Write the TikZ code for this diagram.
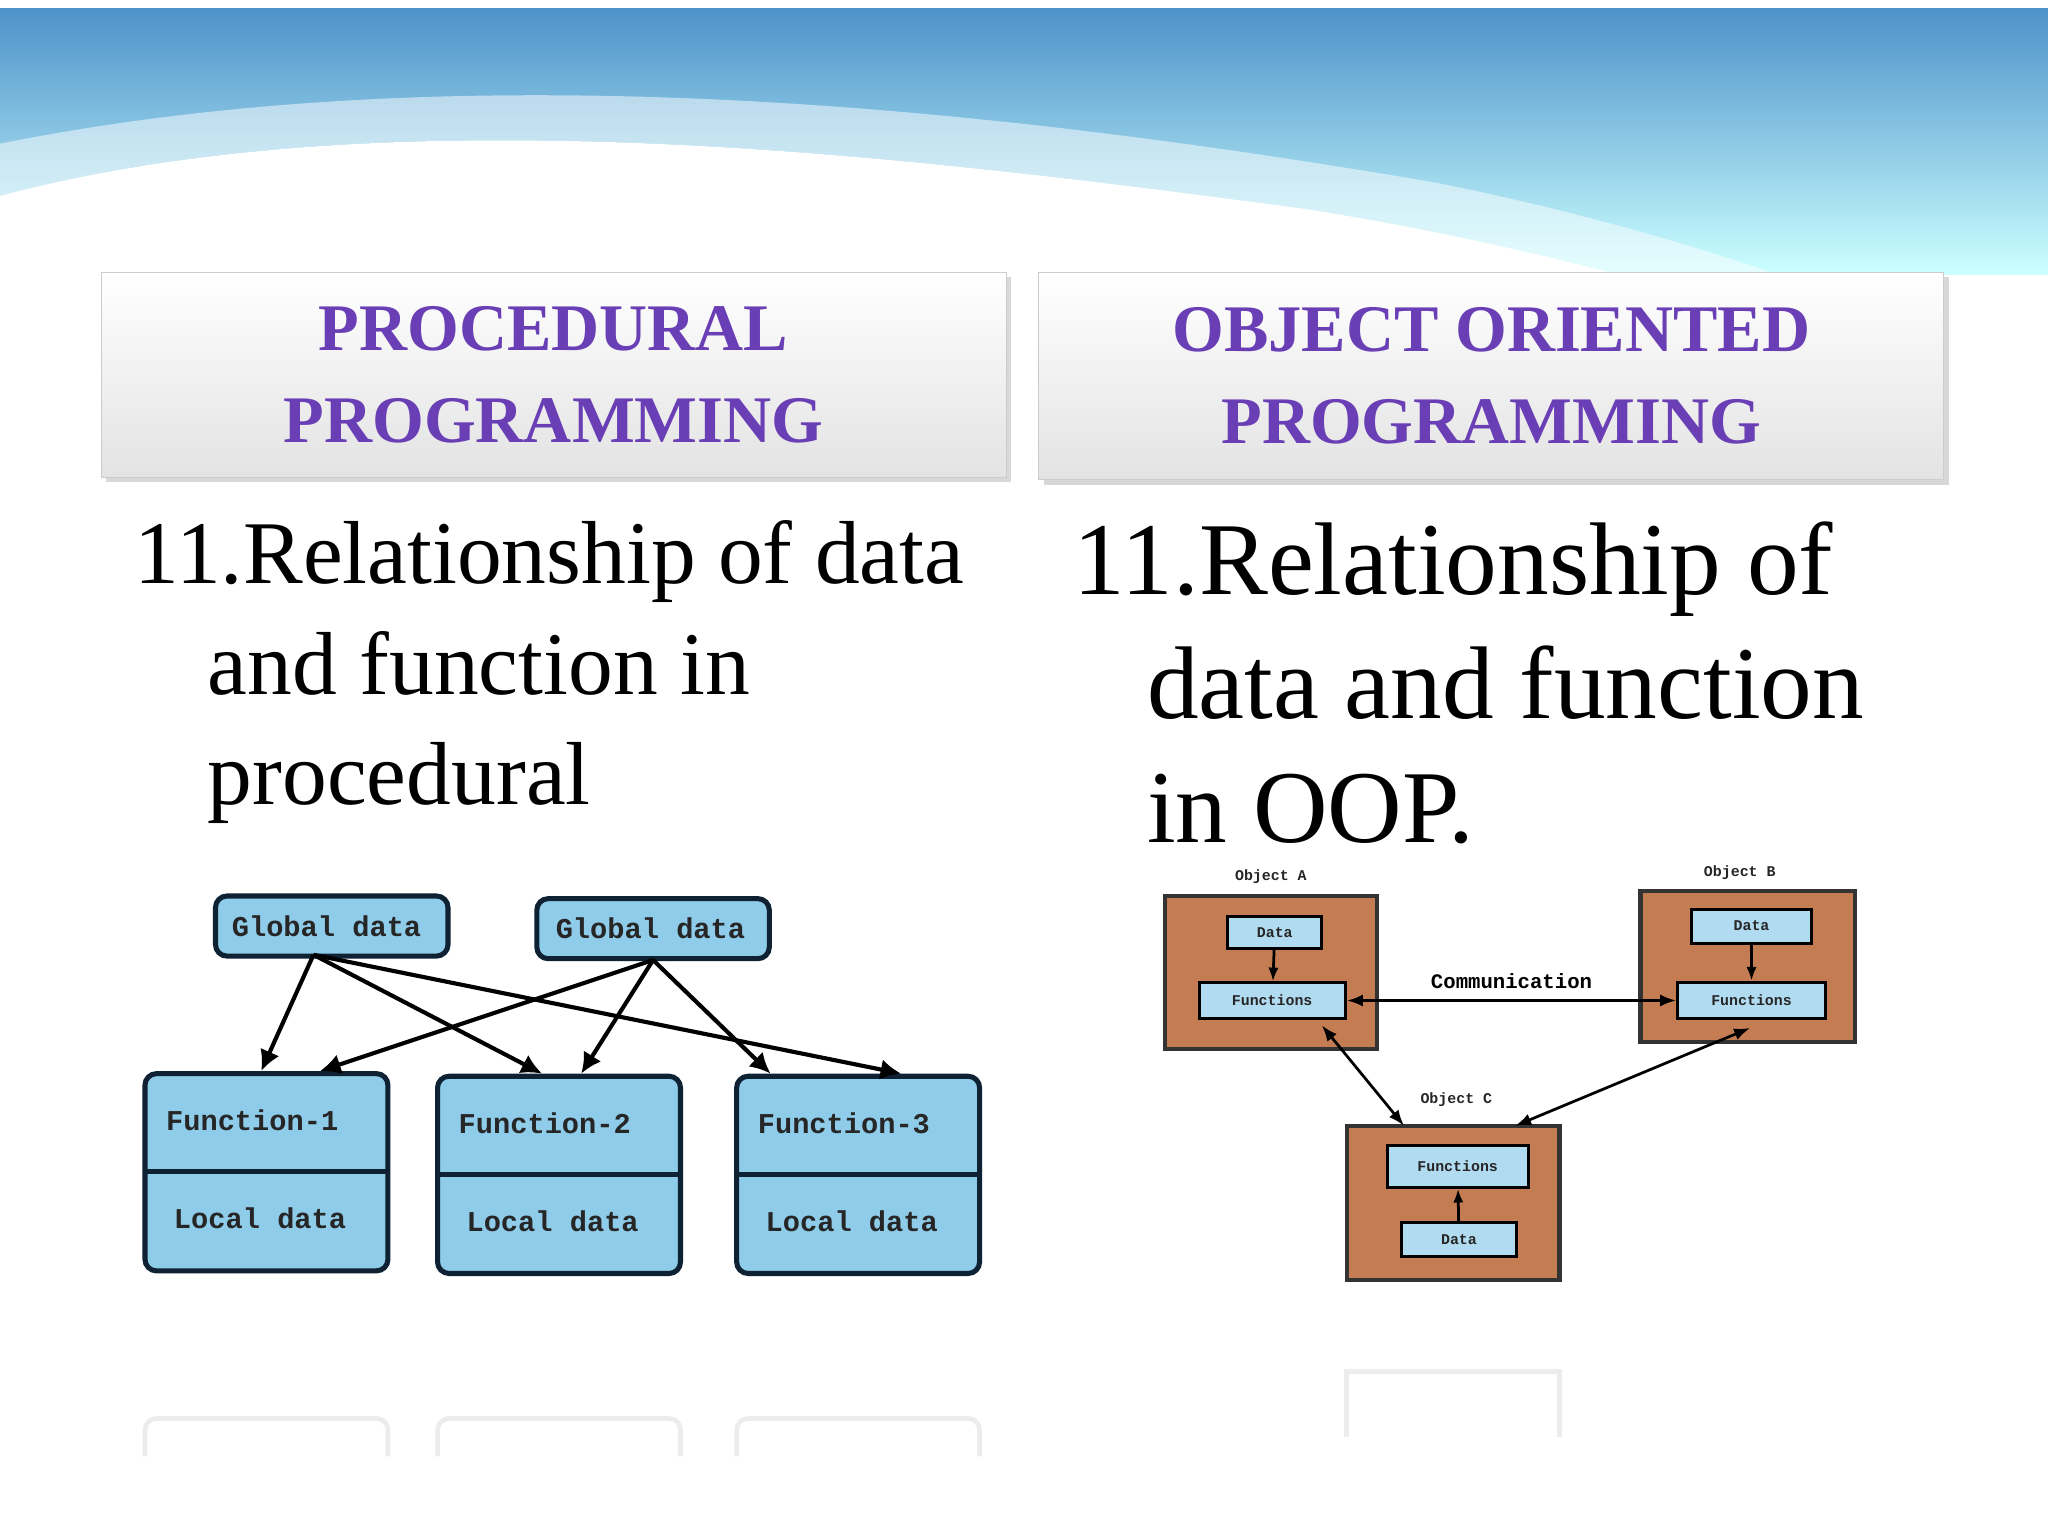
\documentclass[tikz,border=0pt]{standalone}
\usepackage{fontspec}
\setmainfont{Liberation Serif}
\newfontfamily\monof{Liberation Mono}
\usetikzlibrary{arrows.meta,shadows}
\definecolor{hdr}{HTML}{6A3FB5}
\definecolor{bx}{HTML}{8FCCE9}
\definecolor{bxd}{HTML}{0E2233}
\definecolor{brn}{HTML}{C47C52}
\tikzset{
 hbox/.style={draw=gray!40,top color=white,bottom color=gray!22,drop shadow={opacity=0.3}},
 htxt/.style={text=hdr,font=\bfseries\fontsize{29}{40}\selectfont,align=center},
 gb/.style={draw=bxd,line width=2.2pt,fill=bx,rounded corners=5pt},
 ml/.style={font=\monof\bfseries\fontsize{12.5}{14}\selectfont,text=black!85},
 ms/.style={font=\monof\bfseries\fontsize{6.5}{7}\selectfont,text=black!85},
 ar/.style={-{Latex[length=9pt,width=9pt]},line width=1.8pt,draw=black},
 ob/.style={draw=black!80,line width=1.8pt,fill=brn},
 ib/.style={draw=black,line width=1.3pt,fill=bx!70},
 oa/.style={{Latex[length=7pt]}-{Latex[length=7pt]},line width=1.2pt},
 big/.style={font=\fontsize{39}{48}\selectfont,anchor=base west},
 bigr/.style={font=\fontsize{45}{54}\selectfont,anchor=base west}
}
\begin{document}
\begin{tikzpicture}[x=0.02cm,y=-0.02cm]
\useasboundingbox (0,0) rectangle (1568,1176);
\fill[white] (0,0) rectangle (1568,1176);
% sky wave
\shade[top color=blue!45!cyan!70!black!70,bottom color=cyan!20] (0,5) rectangle (1568,210);
\fill[white] (0,150) .. controls (300,70) and (700,120) .. (1000,160) .. controls (1250,200) and (1450,270) .. (1568,330) -- (1568,1176) -- (0,1176) -- cycle;
\fill[white,opacity=0.5] (0,110) .. controls (350,40) and (750,80) .. (1100,140) .. controls (1300,180) and (1450,240) .. (1568,290) -- (1568,330) .. controls (1450,270) and (1250,200) .. (1000,160) .. controls (700,120) and (300,70) .. (0,150) -- cycle;
\fill[white] (0,0) rectangle (1568,6);
% headers
\node[hbox,minimum width=13.86cm,minimum height=3.14cm,anchor=north west] (h1) at (77,208) {};
\node[htxt] at (h1.center) {PROCEDURAL\\PROGRAMMING};
\node[hbox,minimum width=13.86cm,minimum height=3.18cm,anchor=north west] (h2) at (795,208) {};
\node[htxt] at (h2.center) {OBJECT ORIENTED\\PROGRAMMING};
% texts
\node[big] (t1) at (97,447) {11.Relationship of data};
\node[big] (t2) at (153,532) {and function in};
\node[big] (t3) at (153,616) {procedural};
\node[bigr] (u1) at (816,455) {11.Relationship of};
\node[bigr] (u2) at (872,550) {data and function};
\node[bigr] (u3) at (872,645) {in OOP.};
% left diagram
\draw[gb] (165,686) rectangle (343,732); \node[ml] (g1) at (250,709) {Global data};
\draw[gb] (411,688) rectangle (589,734); \node[ml] (g2) at (498,711) {Global data};
\foreach \x/\y/\n in {111/822/1,335/824/2,564/824/3}{
 \draw[gb] (\x,\y) rectangle ++(186,151);
 \draw[bxd,line width=2.2pt] (\x,\y+75) -- ++(186,0);
 \node[ml,anchor=west] at (\x+10,\y+36) {Function-\n};
 \node[ml,anchor=west] at (\x+16,\y+111) {Local data};
}
\coordinate (a1) at (240,731); \coordinate (a2) at (500,735);
\draw[ar] (a1) -- (200,820); \draw[ar] (a1) -- (415,822); \draw[ar] (a1) -- (690,822);
\draw[ar] (a2) -- (245,820); \draw[ar] (a2) -- (445,822); \draw[ar] (a2) -- (590,822);
% right diagram
\draw[ob] (892,686) rectangle (1054,803); \node[ms] at (973,671) {Object A};
\node[ib,minimum width=1.44cm,minimum height=0.48cm,ms] (ad) at (976,714) {Data};
\node[ib,minimum width=2.24cm,minimum height=0.54cm,ms] (af) at (974,766) {Functions};
\draw[-{Latex[length=6pt]},line width=1.2pt] (ad) -- (af);
\draw[ob] (1256,682) rectangle (1420,798); \node[ms] at (1332,668) {Object B};
\node[ib,minimum width=1.84cm,minimum height=0.52cm,ms] (bd) at (1341,709) {Data};
\node[ib,minimum width=2.26cm,minimum height=0.56cm,ms] (bf) at (1341,766) {Functions};
\draw[-{Latex[length=6pt]},line width=1.2pt] (bd) -- (bf);
\draw[oa] (af) -- node[above,font=\monof\bfseries\fontsize{9}{10}\selectfont,yshift=1pt] {Communication} (bf);
\draw[ob] (1031,862) rectangle (1194,980); \node[ms] at (1115,842) {Object C};
\node[ib,minimum width=2.16cm,minimum height=0.64cm,ms] (cf) at (1116,893) {Functions};
\node[ib,minimum width=1.76cm,minimum height=0.52cm,ms] (cd) at (1117,949) {Data};
\draw[-{Latex[length=6pt]},line width=1.2pt] (cd) -- (cf);
\draw[oa] (1012,785) -- (1075,862);
\draw[oa] (1340,787) -- (1160,862);
% faint reflections
\begin{scope}[draw=gray!15,line width=2pt]
\draw[rounded corners=5pt] (111,1115) -- (111,1086) -- (297,1086) -- (297,1115);
\draw[rounded corners=5pt] (335,1115) -- (335,1086) -- (521,1086) -- (521,1115);
\draw[rounded corners=5pt] (564,1115) -- (564,1086) -- (750,1086) -- (750,1115);
\draw (1031,1100) -- (1031,1050) -- (1194,1050) -- (1194,1100);
\end{scope}
\end{tikzpicture}
\end{document}
